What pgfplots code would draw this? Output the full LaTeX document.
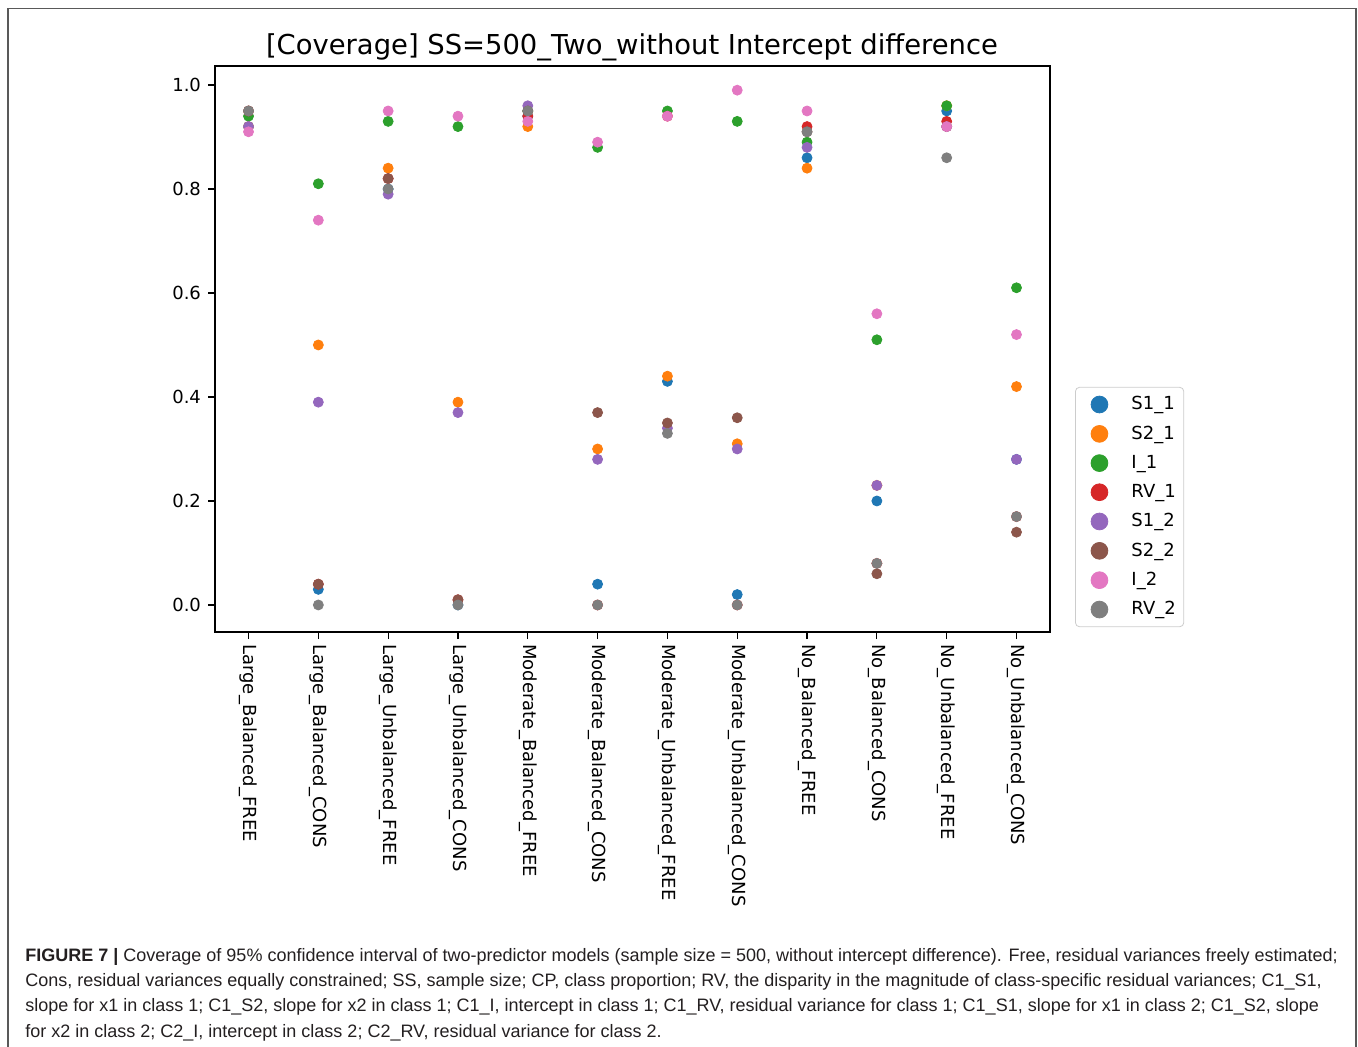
\documentclass[border=0pt]{standalone}
\usepackage{pgfplots}
\pgfplotsset{compat=1.18}
\usepackage{fontspec}
\setmainfont{DejaVu Sans}
\newfontfamily\capfont{Liberation Sans}
\definecolor{c1}{HTML}{1F77B4}
\definecolor{c2}{HTML}{FF7F0E}
\definecolor{c3}{HTML}{2CA02C}
\definecolor{c4}{HTML}{D62728}
\definecolor{c5}{HTML}{9467BD}
\definecolor{c6}{HTML}{8C564B}
\definecolor{c7}{HTML}{E377C2}
\definecolor{c8}{HTML}{7F7F7F}
\definecolor{captxt}{HTML}{231F20}
\begin{document}
\begin{tikzpicture}
\useasboundingbox (0,0) rectangle (679pt,-523.5pt);
\draw[color=black!65, line width=0.9pt] (4pt,-530pt) -- (4pt,-4.3pt) -- (678pt,-4.3pt) -- (678pt,-530pt);
\node[anchor=base, font=\fontsize{13.7}{16}\selectfont] at (316pt,-27.3pt) {[Coverage] SS=500\_Two\_without Intercept difference};
\begin{axis}[
  at={(107.5pt,-316pt)}, anchor=south west,
  scale only axis, width=417.5pt, height=283pt,
  xmin=-0.48, xmax=11.48, ymin=-0.052, ymax=1.0365,
  axis line style={line width=0.75pt},
  tick align=outside, major tick length=3.5pt,
  tick style={black, line width=0.6pt},
  xtick={0,...,11},
  xticklabels={Large\_Balanced\_FREE, Large\_Balanced\_CONS, Large\_Unbalanced\_FREE, Large\_Unbalanced\_CONS, Moderate\_Balanced\_FREE, Moderate\_Balanced\_CONS, Moderate\_Unbalanced\_FREE, Moderate\_Unbalanced\_CONS, No\_Balanced\_FREE, No\_Balanced\_CONS, No\_Unbalanced\_FREE, No\_Unbalanced\_CONS},
  xticklabel style={rotate=-90, anchor=west, font=\fontsize{9}{10}\selectfont, inner sep=0pt, xshift=2.5pt},
  ytick={0,0.2,0.4,0.6,0.8,1.0},
  yticklabel style={font=\fontsize{9}{10}\selectfont, /pgf/number format/.cd, fixed, fixed zerofill, precision=1, assume math mode=true},
  xtick pos=bottom, ytick pos=left,
  legend style={at={(1.03,0.433)}, anchor=north west, draw=black!20, rounded corners=2pt, font=\fontsize{9}{11}\selectfont, row sep=2.5pt, inner ysep=2.5pt, inner xsep=2pt},
  legend cell align=left,
  legend image code/.code={\path[draw=none] (0pt,0pt) -- (24pt,0pt); \draw[#1, mark size=4.2pt] plot[mark=*] coordinates {(10pt,0pt)};},
  every axis plot/.append style={only marks, mark=*, mark size=2.5pt},
]
\addplot[c1, mark options={fill=c1, draw=c1}] coordinates {(0,0.92)(1,0.03)(2,0.80)(3,0.00)(4,0.94)(5,0.04)(6,0.43)(7,0.02)(8,0.86)(9,0.20)(10,0.95)(11,0.28)};
\addlegendentry{S1\_1}
\addplot[c2, mark options={fill=c2, draw=c2}] coordinates {(0,0.92)(1,0.50)(2,0.84)(3,0.39)(4,0.92)(5,0.30)(6,0.44)(7,0.31)(8,0.84)(9,0.23)(10,0.96)(11,0.42)};
\addlegendentry{S2\_1}
\addplot[c3, mark options={fill=c3, draw=c3}] coordinates {(0,0.94)(1,0.81)(2,0.93)(3,0.92)(4,0.95)(5,0.88)(6,0.95)(7,0.93)(8,0.89)(9,0.51)(10,0.96)(11,0.61)};
\addlegendentry{I\_1}
\addplot[c4, mark options={fill=c4, draw=c4}] coordinates {(0,0.95)(1,0.04)(2,0.82)(3,0.01)(4,0.94)(5,0.00)(6,0.94)(7,0.00)(8,0.92)(9,0.08)(10,0.93)(11,0.17)};
\addlegendentry{RV\_1}
\addplot[c5, mark options={fill=c5, draw=c5}] coordinates {(0,0.92)(1,0.39)(2,0.79)(3,0.37)(4,0.96)(5,0.28)(6,0.34)(7,0.30)(8,0.88)(9,0.23)(10,0.92)(11,0.28)};
\addlegendentry{S1\_2}
\addplot[c6, mark options={fill=c6, draw=c6}] coordinates {(0,0.95)(1,0.04)(2,0.82)(3,0.01)(4,0.95)(5,0.37)(6,0.35)(7,0.36)(8,0.91)(9,0.06)(10,0.92)(11,0.14)};
\addlegendentry{S2\_2}
\addplot[c7, mark options={fill=c7, draw=c7}] coordinates {(0,0.91)(1,0.74)(2,0.95)(3,0.94)(4,0.93)(5,0.89)(6,0.94)(7,0.99)(8,0.95)(9,0.56)(10,0.92)(11,0.52)};
\addlegendentry{I\_2}
\addplot[c8, mark options={fill=c8, draw=c8}] coordinates {(0,0.95)(1,0.00)(2,0.80)(3,0.00)(4,0.95)(5,0.00)(6,0.33)(7,0.00)(8,0.91)(9,0.08)(10,0.86)(11,0.17)};
\addlegendentry{RV\_2}
\end{axis}
\node[anchor=base west, align=left, inner sep=0pt, text=captxt, font=\capfont\fontsize{9}{12.6}\selectfont] at (12.5pt,-518.5pt) {\textbf{FIGURE 7 |} Coverage of 95\% confidence interval of two-predictor models (sample size = 500, without intercept difference). Free, residual variances freely estimated;\\
Cons, residual variances equally constrained; SS, sample size; CP, class proportion; RV, the disparity in the magnitude of class-specific residual variances; C1\_S1,\\
slope for x1 in class 1; C1\_S2, slope for x2 in class 1; C1\_I, intercept in class 1; C1\_RV, residual variance for class 1; C1\_S1, slope for x1 in class 2; C1\_S2, slope\\
for x2 in class 2; C2\_I, intercept in class 2; C2\_RV, residual variance for class 2.};
\end{tikzpicture}
\end{document}
